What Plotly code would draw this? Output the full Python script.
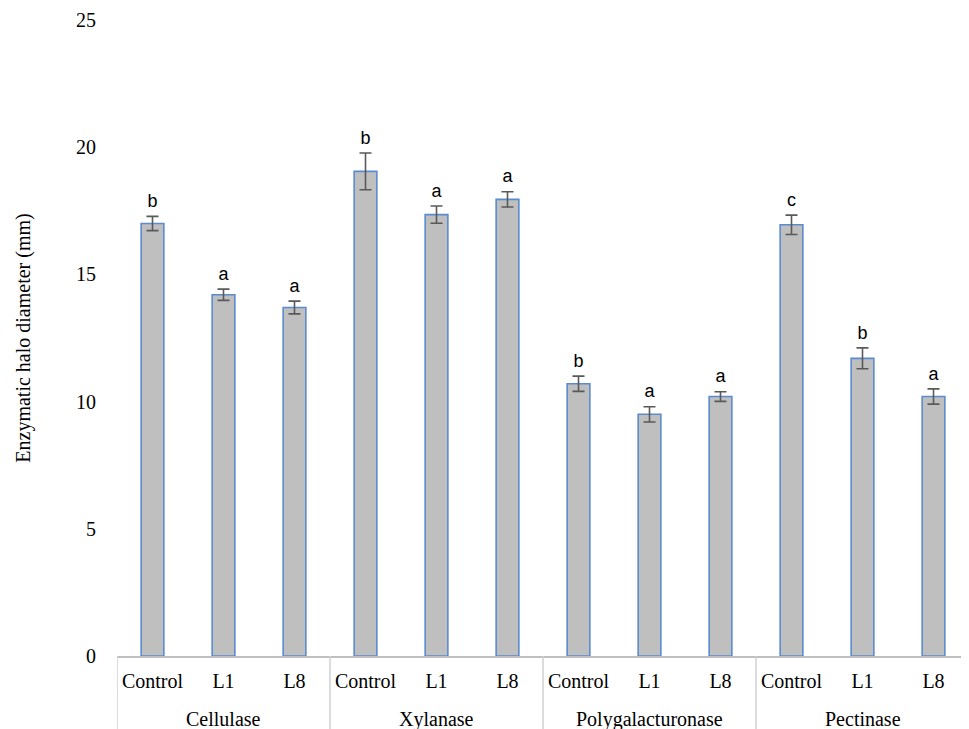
import plotly.graph_objects as go

enzymes = ["Cellulase", "Xylanase", "Polygalacturonase", "Pectinase"]
treatments = ["Control", "L1", "L8"]
values = [17.0, 14.2, 13.7, 19.05, 17.35, 17.95, 10.7, 9.5, 10.2, 16.95, 11.7, 10.2]
errors = [0.28, 0.22, 0.25, 0.72, 0.34, 0.3, 0.3, 0.3, 0.19, 0.38, 0.41, 0.3]
letters = ["b", "a", "a", "b", "a", "a", "b", "a", "a", "c", "b", "a"]
y_ticks = [0, 5, 10, 15, 20, 25]

n_t = len(treatments)
x_inner = [t for _ in enzymes for t in treatments]
x_pos = list(range(len(x_inner)))

fig = go.Figure()
fig.add_trace(go.Bar(
    x=x_pos, y=values, width=0.32,
    marker=dict(color="#BFBFBF", line=dict(color="#5B8BCF", width=1.6)),
    error_y=dict(type="data", array=errors, visible=True, color="#595959",
                 thickness=1.6, width=6),
    showlegend=False,
))
fig.add_trace(go.Scatter(
    x=x_pos, y=[v + e for v, e in zip(values, errors)],
    mode="markers+text", text=letters, textposition="top center",
    marker=dict(size=6, color="rgba(0,0,0,0)"),
    textfont=dict(family="Liberation Sans, Arial, sans-serif", size=18, color="#000000"),
    showlegend=False, hoverinfo="skip", cliponaxis=False,
))

# group labels and dividers below the axis
for gi, name in enumerate(enzymes):
    center = gi * n_t + (n_t - 1) / 2
    fig.add_annotation(x=center, xref="x", y=0, yref="paper",
                       text=name, showarrow=False, yanchor="middle", yshift=-63,
                       font=dict(family="Liberation Serif, Times New Roman, serif", size=20, color="#000000"))
for b in range(len(enzymes) + 1):
    xb = b * n_t - 0.5
    fig.add_shape(type="line", xref="x", yref="paper", x0=xb, x1=xb, y0=0, y1=-0.13,
                  line=dict(color="#D0D0D0", width=1.5))

fig.update_layout(
    width=969, height=729,
    margin=dict(l=109, r=8, t=12, b=81),
    paper_bgcolor="white", plot_bgcolor="white",
    font=dict(family="Liberation Serif, Times New Roman, serif", size=20, color="#000000"),
    xaxis=dict(
        range=[-0.5, len(x_inner) - 0.5],
        tickvals=x_pos, ticktext=x_inner,
        showline=True, linecolor="#BFBFBF", linewidth=1.5,
        showgrid=False, zeroline=False, ticks="", ticklabelstandoff=6,
        tickfont=dict(size=20), automargin=False,
    ),
    yaxis=dict(
        range=[0, 25], tickvals=y_ticks,
        showline=False, showgrid=False, zeroline=False,
        ticks="", ticklabelstandoff=20, automargin=False,
        tickfont=dict(size=20),
        title=dict(text="Enzymatic halo diameter (mm)", standoff=40,
                   font=dict(size=20)),
    ),
)

fig.write_html("out.html")
